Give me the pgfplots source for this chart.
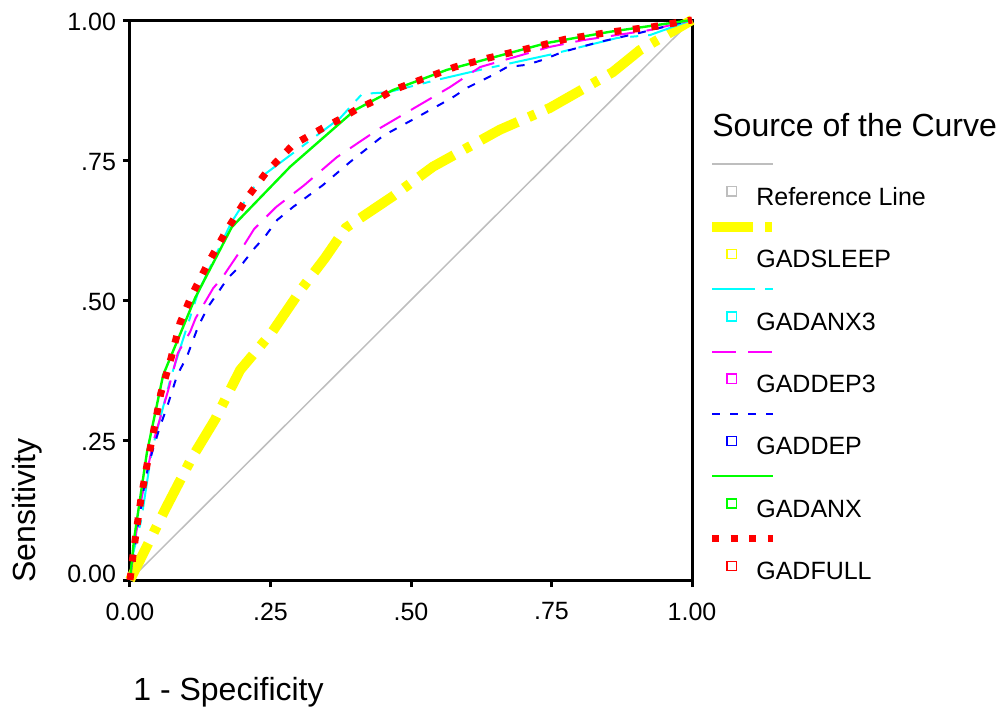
\documentclass[border=0pt]{standalone}
\usepackage{fontspec}
\setmainfont{Liberation Sans}
\usepackage{pgfplots}
\pgfplotsset{compat=1.18}

\definecolor{refgray}{RGB}{190,190,190}
\definecolor{cYellow}{RGB}{255,255,0}
\definecolor{cCyan}{RGB}{0,255,255}
\definecolor{cMagenta}{RGB}{255,0,255}
\definecolor{cBlue}{RGB}{0,0,255}
\definecolor{cGreen}{RGB}{0,255,0}
\definecolor{cRed}{RGB}{255,0,0}

\pgfplotsset{
  spsslegend/.style={
    legend image code/.code={
      \draw[overlay] (-9.85pt,16.85pt) -- (20.65pt,16.85pt);
      \draw[overlay,solid,line width=0.7pt] (-2.3pt,0.95pt) rectangle (2.3pt,5.55pt);
      \path (0pt,0pt);
    }
  }
}

\begin{document}
\begin{tikzpicture}
\useasboundingbox (-65pt,-64.5pt) rectangle (436pt,290pt);
\begin{axis}[
  scale only axis, width=281pt, height=280pt,
  at={(0,0)}, anchor=south west,
  xmin=0, xmax=1, ymin=0, ymax=1,
  clip=false,
  axis line style={line width=1.5pt},
  xtick={0,0.25,0.5,0.75,1},
  xticklabels={0.00,.25,.50,.75,1.00},
  ytick={0,0.25,0.5,0.75,1},
  yticklabels={\raisebox{4.5pt}[9pt][0pt]{0.00},.25,.50,.75,1.00},
  tick align=outside, tick pos=left,
  major tick length=3.5pt,
  tick style={line width=1.5pt, black},
  ticklabel style={font=\fontsize{12.5}{15}\selectfont},
  xticklabel style={yshift=-4.3pt},
  yticklabel style={yshift=-1pt},
  legend cell align=left,
  legend style={at={(axis description cs:1.0618,0.70125)}, anchor=north west,
    draw=none, fill=none, inner sep=0pt, outer sep=0pt,
    row sep=20.95pt, column sep=9.8pt,
    nodes={inner sep=0pt, font=\fontsize{12.5}{15}\selectfont}},
]
% Reference line
\addplot[refgray, line width=0.75pt, spsslegend] coordinates {(0,0) (1,1)};
\addlegendentry{Reference Line}
% GADSLEEP
\addplot[cYellow, line width=5pt, dash pattern=on 20.5pt off 6pt on 3.5pt off 6pt, spsslegend] coordinates {
(0,0) (0.018,0.036) (0.062,0.125) (0.110,0.218) (0.151,0.286) (0.196,0.375)
(0.253,0.443) (0.306,0.521) (0.347,0.575) (0.384,0.629) (0.466,0.684)
(0.539,0.738) (0.658,0.804) (0.747,0.843) (0.859,0.907) (0.907,0.946) (1,1)};
\addlegendentry{GADSLEEP}
% GADANX3
\addplot[cCyan, line width=1pt, dash pattern=on 21.5pt off 5pt on 4pt off 5pt, spsslegend] coordinates {
(0,0) (0.005,0.045) (0.020,0.107) (0.039,0.232) (0.073,0.363) (0.121,0.513)
(0.180,0.638) (0.231,0.718) (0.374,0.825) (0.413,0.868) (0.459,0.871)
(0.546,0.893) (0.623,0.911) (0.747,0.938) (0.867,0.968) (0.925,0.973) (1,1)};
\addlegendentry{GADANX3}
% GADDEP3
\addplot[cMagenta, line width=1pt, dash pattern=on 12pt off 6pt, spsslegend] coordinates {
(0,0) (0.009,0.071) (0.021,0.148) (0.041,0.245) (0.068,0.339) (0.085,0.405)
(0.107,0.443) (0.117,0.468) (0.148,0.521) (0.165,0.541) (0.201,0.595)
(0.221,0.627) (0.260,0.666) (0.310,0.705) (0.368,0.755) (0.445,0.807)
(0.569,0.880) (0.623,0.916) (0.747,0.952) (0.806,0.964) (0.925,0.982) (1,1)};
\addlegendentry{GADDEP3}
% GADDEP
\addplot[cBlue, line width=1pt, dash pattern=on 4pt off 5pt, spsslegend] coordinates {
(0,0) (0.009,0.063) (0.018,0.120) (0.027,0.179) (0.039,0.227) (0.053,0.273)
(0.066,0.309) (0.084,0.366) (0.101,0.398) (0.121,0.452) (0.139,0.488)
(0.157,0.514) (0.174,0.539) (0.201,0.566) (0.222,0.593) (0.240,0.613)
(0.262,0.643) (0.290,0.666) (0.343,0.705) (0.391,0.746) (0.445,0.789)
(0.459,0.798) (0.512,0.827) (0.573,0.861) (0.600,0.879) (0.646,0.902)
(0.671,0.916) (0.706,0.920) (0.735,0.929) (0.770,0.943) (0.836,0.961)
(0.907,0.977) (1,1)};
\addlegendentry{GADDEP}
% GADANX
\addplot[cGreen, line width=1.2pt, spsslegend] coordinates {
(0,0) (0.007,0.071) (0.030,0.227) (0.059,0.366) (0.116,0.504) (0.181,0.630)
(0.285,0.738) (0.400,0.839) (0.468,0.875) (0.564,0.911) (0.742,0.959)
(0.854,0.979) (1,1)};
\addlegendentry{GADANX}
% GADFULL
\addplot[cRed, line width=3.5pt, dash pattern=on 3.5pt off 5.8pt, spsslegend] coordinates {
(0,0) (0.005,0.041) (0.012,0.093) (0.020,0.148) (0.030,0.204) (0.043,0.271)
(0.055,0.334) (0.073,0.396) (0.089,0.459) (0.110,0.509) (0.139,0.566)
(0.171,0.623) (0.208,0.682) (0.244,0.730) (0.290,0.777) (0.343,0.807)
(0.374,0.823) (0.404,0.841) (0.434,0.855) (0.468,0.875) (0.530,0.898)
(0.578,0.916) (0.637,0.932) (0.712,0.950) (0.776,0.966) (0.859,0.979)
(0.931,0.988) (1,1)};
\addlegendentry{GADFULL}
\end{axis}
\node[inner sep=0pt, anchor=base west, font=\fontsize{16}{19}\selectfont] at (291pt,222pt) {Source of the Curve};
\node[inner sep=0pt, anchor=base west, font=\fontsize{16}{19}\selectfont] at (1.5pt,-60pt) {1 - Specificity};
\node[inner sep=0pt, rotate=90, anchor=base west, font=\fontsize{16}{19}\selectfont] at (-47.2pt,-1.5pt) {Sensitivity};
\end{tikzpicture}
\end{document}
